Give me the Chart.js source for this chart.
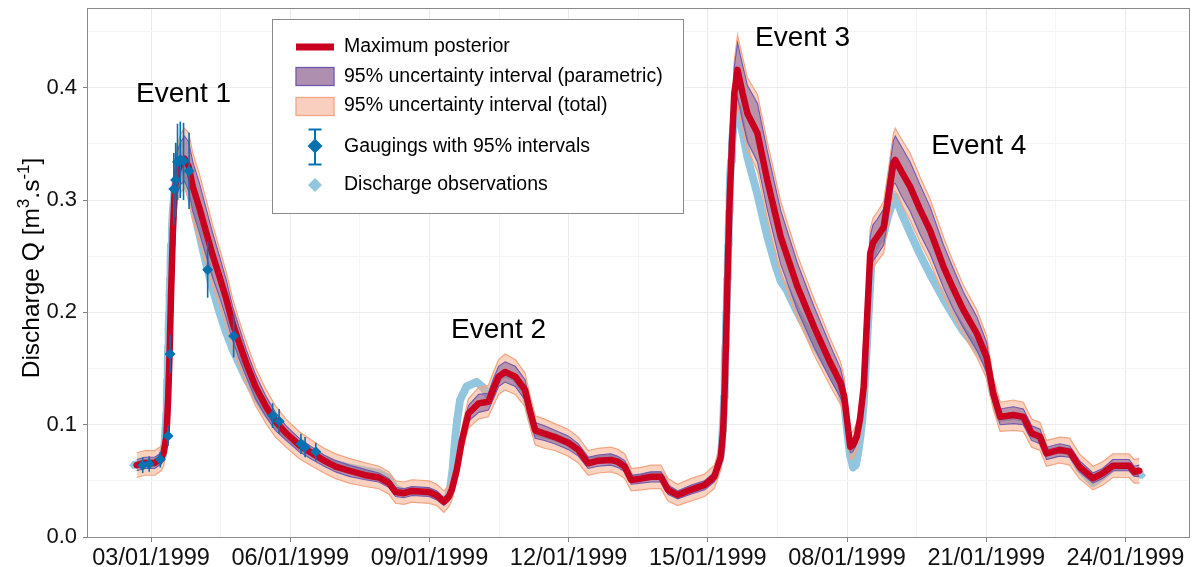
<!DOCTYPE html>
<html><head><meta charset="utf-8">
<script src="https://cdn.jsdelivr.net/npm/chart.js@4/dist/chart.umd.min.js"></script>
<style>html,body{margin:0;padding:0;background:#fff;}#wrap{width:1194px;height:567px;}</style>
</head><body><div id="wrap"><canvas id="c" width="1194" height="567"></canvas></div>
<script>
// ---------- DATA (time in days since 01/01/1999 00:00, discharge in m3/s) ----------
const tickDays   = [2, 5, 8, 11, 14, 17, 20, 23];
const tickLabels = ["03/01/1999","06/01/1999","09/01/1999","12/01/1999","15/01/1999","08/01/1999","21/01/1999","24/01/1999"];
const yTickValues = [0, 0.05, 0.1, 0.15, 0.2, 0.25, 0.3, 0.35, 0.4, 0.45];

const mapT = [1.69,1.87,2.08,2.22,2.27,2.33,2.37,2.40,2.43,2.47,
 2.51,2.57,2.64,2.72,2.81,2.90,3.05,3.19,3.32,3.475,
 3.62,3.76,3.905,4.05,4.25,4.48,4.68,4.91,5.19,5.47,
 5.73,5.98,6.27,6.62,6.91,7.13,7.27,7.45,7.62,7.99,
 8.16,8.31,8.42,8.48,8.59,8.70,8.84,9.06,9.27,9.38,
 9.49,9.63,9.85,10.06,10.15,10.28,10.48,10.70,10.99,11.21,
 11.42,11.635,11.91,12.06,12.21,12.35,12.56,12.78,12.99,13.14,
 13.35,13.63,13.93,14.14,14.28,14.33,14.37,14.40,14.43,14.47,
 14.52,14.57,14.64,14.75,14.855,15.07,15.28,15.57,15.93,16.29,
 16.645,16.86,16.94,17.00,17.07,17.13,17.21,17.28,17.36,17.43,
 17.50,17.56,17.65,17.79,17.88,18.00,18.04,18.18,18.36,18.57,
 18.79,19.08,19.28,19.51,19.80,20.01,20.15,20.30,20.585,20.80,
 20.98,21.16,21.30,21.585,21.80,22.01,22.30,22.51,22.73,23.08,
 23.19,23.30];
const mapQ = [.064,.066,.066,.070,.075,.089,.125,.164,.215,.271,
 .309,.325,.333,.337,.330,.312,.292,.271,.252,.232,
 .212,.190,.172,.155,.134,.116,.103,.0925,.082,.0746,
 .068,.0626,.059,.055,.053,.048,.040,.039,.041,.040,
 .037,.0315,.036,.042,.060,.086,.110,.119,.1205,.132,
 .1427,.147,.1427,.131,.115,.095,.092,.089,.084,.0775,
 .0656,.068,.0686,.067,.0626,.0508,.052,.0537,.0537,.042,
 .0374,.042,.0463,.0537,.0715,.095,.140,.190,.240,.300,
 .350,.395,.416,.395,.377,.3595,.318,.2674,.223,.187,
 .1547,.137,.125,.104,.0804,.082,.0893,.105,.134,.193,
 .2526,.262,.2674,.276,.300,.333,.3357,.325,.312,.292,
 .273,.2407,.222,.202,.181,.160,.128,.107,.1086,.107,
 .0923,.0893,.0745,.0775,.076,.0626,.0523,.0567,.0635,.0635,
 .058,.059];
const parLo = [.059,.061,.061,.065,.069,.083,.117,.154,.202,.255,
 .291,.306,.314,.317,.308,.290,.270,.250,.232,.214,
 .195,.175,.158,.143,.123,.107,.095,.086,.076,.069,
 .063,.058,.054,.051,.049,.044,.036,.035,.037,.036,
 .033,.028,.032,.038,.055,.080,.103,.111,.113,.123,
 .134,.138,.134,.122,.107,.088,.086,.083,.078,.072,
 .061,.063,.064,.062,.058,.047,.048,.049,.049,.038,
 .034,.038,.042,.049,.066,.088,.131,.178,.225,.282,
 .330,.372,.392,.370,.352,.334,.292,.243,.202,.169,
 .140,.124,.114,.097,.075,.076,.083,.098,.125,.181,
 .238,.246,.251,.260,.282,.314,.315,.303,.290,.270,
 .252,.222,.204,.186,.166,.147,.120,.100,.101,.100,
 .086,.083,.069,.072,.071,.058,.048,.052,.059,.059,
 .054,.054];
const parHi = [.069,.071,.071,.075,.081,.095,.133,.174,.228,.287,
 .327,.344,.352,.357,.352,.334,.314,.292,.272,.250,
 .229,.205,.186,.167,.145,.125,.111,.099,.088,.080,
 .073,.068,.064,.060,.057,.052,.044,.043,.045,.044,
 .041,.035,.040,.046,.065,.092,.117,.127,.128,.141,
 .152,.156,.152,.140,.123,.102,.099,.095,.090,.083,
 .071,.073,.074,.072,.068,.055,.056,.058,.058,.046,
 .041,.046,.050,.058,.077,.102,.149,.202,.255,.318,
 .370,.418,.440,.420,.402,.386,.344,.291,.244,.205,
 .170,.150,.136,.111,.086,.088,.096,.112,.143,.205,
 .268,.278,.283,.292,.318,.353,.357,.347,.334,.314,
 .294,.260,.240,.218,.196,.173,.136,.114,.116,.114,
 .099,.096,.080,.083,.081,.068,.057,.061,.069,.069,
 .063,.064];
const totLo = [.053,.055,.055,.059,.063,.077,.111,.148,.196,.249,
 .285,.300,.307,.311,.300,.282,.262,.242,.225,.207,
 .188,.168,.152,.136,.117,.101,.089,.080,.070,.063,
 .057,.052,.048,.045,.043,.038,.030,.029,.031,.030,
 .028,.022,.027,.032,.049,.074,.097,.105,.107,.117,
 .127,.131,.127,.116,.101,.082,.079,.077,.072,.066,
 .055,.057,.058,.056,.052,.041,.042,.043,.043,.032,
 .028,.032,.036,.043,.060,.082,.125,.172,.219,.276,
 .323,.366,.386,.363,.345,.326,.284,.235,.195,.162,
 .134,.118,.108,.091,.069,.070,.077,.092,.119,.175,
 .231,.240,.245,.253,.276,.307,.308,.296,.282,.263,
 .245,.215,.198,.180,.160,.141,.114,.094,.095,.094,
 .080,.077,.063,.066,.064,.052,.042,.046,.053,.053,
 .048,.048];
const totHi = [.075,.077,.077,.081,.087,.101,.139,.181,.234,.293,
 .334,.350,.359,.364,.360,.342,.322,.300,.279,.257,
 .236,.212,.192,.174,.151,.131,.117,.105,.094,.086,
 .079,.074,.070,.066,.063,.058,.050,.049,.051,.050,
 .047,.041,.046,.052,.071,.098,.123,.133,.135,.147,
 .158,.163,.158,.146,.129,.108,.105,.101,.096,.089,
 .077,.079,.080,.078,.074,.061,.062,.064,.064,.052,
 .047,.052,.056,.064,.083,.108,.155,.208,.261,.324,
 .377,.424,.447,.427,.409,.394,.352,.299,.251,.212,
 .176,.156,.142,.117,.092,.094,.102,.118,.149,.211,
 .274,.284,.289,.299,.324,.359,.364,.354,.342,.321,
 .301,.267,.246,.224,.202,.179,.142,.120,.122,.120,
 .105,.102,.086,.089,.088,.074,.063,.067,.074,.074,
 .069,.070];

const obsT = [1.61,1.75,1.90,2.05,2.18,2.25,2.29,2.31,2.33,2.34,
 2.35,2.36,2.37,2.38,2.39,2.40,2.41,2.42,2.43,2.45,
 2.47,2.50,2.54,2.60,2.67,2.75,2.83,2.90,3.05,3.19,
 3.32,3.475,3.62,3.76,3.905,4.05,4.25,4.48,4.68,4.91,
 5.19,5.47,5.73,5.98,6.27,6.62,6.91,7.13,7.27,7.45,
 7.62,7.99,8.16,8.31,8.40,8.45,8.50,8.53,8.56,8.60,
 8.66,8.80,9.02,9.16,9.27,9.38,9.49,9.63,9.85,10.06,
 10.15,10.28,10.48,10.70,10.99,11.21,11.42,11.635,11.91,12.06,
 12.21,12.35,12.56,12.78,12.99,13.14,13.35,13.63,13.93,14.14,
 14.26,14.30,14.32,14.34,14.35,14.36,14.37,14.38,14.39,14.40,
 14.41,14.42,14.43,14.44,14.45,14.46,14.47,14.48,14.50,14.52,
 14.55,14.59,14.64,14.75,14.855,15.07,15.28,15.45,15.57,15.70,
 15.93,16.29,16.645,16.86,16.94,17.00,17.07,17.13,17.19,17.24,
 17.29,17.33,17.36,17.38,17.40,17.42,17.44,17.46,17.48,17.50,
 17.52,17.56,17.65,17.79,17.88,18.00,18.04,18.18,18.36,18.57,
 18.79,19.08,19.28,19.51,19.80,20.01,20.15,20.30,20.585,20.80,
 20.98,21.16,21.30,21.585,21.80,22.01,22.30,22.51,22.73,23.08,
 23.19,23.36];
const obsQ = [.064,.065,.066,.066,.068,.072,.082,.095,.110,.125,
 .140,.155,.170,.185,.200,.215,.230,.245,.260,.275,
 .290,.305,.318,.328,.330,.325,.310,.295,.268,.243,
 .222,.200,.182,.167,.154,.141,.126,.111,.101,.091,
 .081,.075,.069,.065,.062,.059,.057,.052,.043,.040,
 .041,.040,.037,.032,.036,.045,.060,.075,.090,.105,
 .122,.134,.138,.133,.126,.133,.142,.146,.142,.130,
 .112,.093,.091,.089,.084,.078,.067,.069,.070,.068,
 .063,.052,.053,.055,.055,.043,.038,.042,.046,.053,
 .068,.080,.095,.110,.125,.140,.155,.170,.185,.200,
 .215,.230,.245,.260,.275,.290,.305,.320,.335,.350,
 .365,.378,.383,.360,.338,.305,.268,.243,.228,.220,
 .200,.172,.147,.130,.119,.096,.072,.062,.064,.075,
 .090,.105,.120,.135,.150,.165,.180,.195,.210,.225,
 .240,.255,.262,.270,.285,.300,.303,.288,.271,.252,
 .234,.212,.198,.183,.168,.155,.127,.106,.108,.106,
 .092,.089,.075,.078,.076,.061,.048,.054,.062,.063,
 .058,.055];

const gaugT  = [1.82,1.96,2.20,2.365,2.41,2.49,2.53,2.57,2.63,2.70,2.82,3.22,3.78,4.62,4.76,5.23,5.32,5.55];
const gaugQ  = [.064,.065,.069,.090,.163,.310,.318,.334,.336,.335,.326,.238,.179,.108,.103,.083,.080,.076];
const gaugLo = [.057,.058,.062,.081,.146,.278,.285,.300,.302,.300,.292,.213,.160,.097,.092,.074,.071,.068];
const gaugHi = [.071,.072,.076,.099,.180,.342,.351,.368,.370,.369,.360,.263,.198,.119,.114,.092,.089,.084];

const eventLabels = ["Event 1","Event 2","Event 3","Event 4"];
const legendLabels = ["Maximum posterior","95% uncertainty interval (parametric)","95% uncertainty interval (total)","Gaugings with 95% intervals","Discharge observations"];

// ---------- STYLE / LAYOUT ----------
const FONT = "'Liberation Sans', Arial, Helvetica, sans-serif";
const C = {map:'#CA0020', parFill:'rgba(95,60,140,0.42)', parLine:'#7058B0', totFill:'rgba(244,165,130,0.5)', totLine:'#F4A582', obs:'#92C5DE', gaug:'#0571B0'};
const eventAnchors = [[2.70,0.394],[9.49,0.184],[16.04,0.444],[19.84,0.348]];

const pts = (T,Q) => T.map((t,i)=>({x:t, y:Q[i]}));
const xMin = 0.641, xMax = 24.36;
const xGrid = [];
tickDays.forEach(d => { xGrid.push(d); if (d + 1.5 < xMax) xGrid.push(d + 1.5); });
const isMajorY = v => Math.abs(v*10 - Math.round(v*10)) < 1e-6;
const isMajorX = v => tickDays.indexOf(v) >= 0;

function diamond(ctx, x, y, r){ ctx.beginPath(); ctx.moveTo(x, y-r); ctx.lineTo(x+r, y); ctx.lineTo(x, y+r); ctx.lineTo(x-r, y); ctx.closePath(); ctx.fill(); }

const deco = {
  id: 'deco',
  beforeDatasetDraw(chart, args){
    if (args.index !== 0) return;
    const {ctx, chartArea:a, scales:{x, y}} = chart;
    ctx.save();
    ctx.beginPath(); ctx.rect(a.left, a.top, a.right-a.left, a.bottom-a.top); ctx.clip();
    ctx.strokeStyle = C.gaug; ctx.lineWidth = 1.6;
    ctx.beginPath();
    gaugT.forEach((t,i) => { const px = x.getPixelForValue(t); ctx.moveTo(px, y.getPixelForValue(gaugLo[i])); ctx.lineTo(px, y.getPixelForValue(gaugHi[i])); });
    ctx.stroke();
    ctx.restore();
  },
  afterDraw(chart){
    const {ctx, chartArea:a, scales:{x, y}} = chart;
    ctx.save();
    // panel frame
    ctx.strokeStyle = '#8a8a8a'; ctx.lineWidth = 1;
    ctx.strokeRect(Math.round(a.left)-0.5, Math.round(a.top)-0.5, Math.round(a.right-a.left)+1, Math.round(a.bottom-a.top)+1);
    // event labels
    ctx.fillStyle = '#000'; ctx.font = '28px ' + FONT; ctx.textAlign = 'center'; ctx.textBaseline = 'middle';
    eventLabels.forEach((s,i) => ctx.fillText(s, x.getPixelForValue(eventAnchors[i][0]), y.getPixelForValue(eventAnchors[i][1])));
    // y title with superscripts
    const parts = [['Discharge Q [m',0],['3',1],['.s',0],['-1',1],[']',0]];
    const fMain = '24.5px ' + FONT, fSup = '17px ' + FONT;
    let total = 0;
    parts.forEach(p => { ctx.font = p[1] ? fSup : fMain; total += ctx.measureText(p[0]).width; });
    ctx.translate(39, 268); ctx.rotate(-Math.PI/2);
    ctx.textAlign = 'left'; ctx.textBaseline = 'alphabetic';
    let cx = -total/2;
    parts.forEach(p => { ctx.font = p[1] ? fSup : fMain; ctx.fillText(p[0], cx, p[1] ? -10.5 : 0); cx += ctx.measureText(p[0]).width; });
    ctx.setTransform(1,0,0,1,0,0);
    // legend
    ctx.fillStyle = '#fff'; ctx.fillRect(272, 19, 411, 194);
    ctx.strokeStyle = '#8a8a8a'; ctx.lineWidth = 1; ctx.strokeRect(272.5, 19.5, 411, 194);
    ctx.strokeStyle = C.map; ctx.lineWidth = 7; ctx.lineCap = 'butt';
    ctx.beginPath(); ctx.moveTo(296, 47); ctx.lineTo(334, 47); ctx.stroke();
    ctx.fillStyle = '#AE8FAF'; ctx.fillRect(296, 67.5, 38, 18);
    ctx.strokeStyle = C.parLine; ctx.lineWidth = 1.3; ctx.strokeRect(296, 67.5, 38, 18);
    ctx.fillStyle = '#F9D0BF'; ctx.fillRect(296, 97.5, 38, 18);
    ctx.strokeStyle = C.totLine; ctx.strokeRect(296, 97.5, 38, 18);
    ctx.strokeStyle = C.gaug; ctx.lineWidth = 2;
    ctx.beginPath(); ctx.moveTo(315, 129.5); ctx.lineTo(315, 164.5);
    ctx.moveTo(308.5, 129.5); ctx.lineTo(321.5, 129.5); ctx.moveTo(308.5, 164.5); ctx.lineTo(321.5, 164.5); ctx.stroke();
    ctx.fillStyle = C.gaug; diamond(ctx, 315, 146, 7.5);
    ctx.fillStyle = C.obs; diamond(ctx, 315, 185, 7);
    ctx.fillStyle = '#000'; ctx.font = '19.5px ' + FONT; ctx.textAlign = 'left'; ctx.textBaseline = 'middle';
    [47, 76.5, 106, 147, 185].forEach((yy,i) => ctx.fillText(legendLabels[i], 344, yy));
    ctx.restore();
  }
};

Chart.defaults.font.family = FONT;
new Chart(document.getElementById('c'), {
  type: 'line',
  data: { datasets: [
    {label: legendLabels[3], data: pts(gaugT, gaugQ), showLine: false, pointStyle: 'rectRot', pointRadius: 5.5, pointBackgroundColor: C.gaug, pointBorderWidth: 0, borderColor: C.gaug, fill: false},
    {label: legendLabels[0], data: pts(mapT, mapQ), borderColor: C.map, borderWidth: 6.5, pointRadius: 0, fill: false, borderJoinStyle: 'round', borderCapStyle: 'round'},
    {label: 'par hi', data: pts(mapT, parHi), borderColor: C.parLine, borderWidth: 1.1, pointRadius: 0, fill: false},
    {label: 'par lo', data: pts(mapT, parLo), borderColor: C.parLine, borderWidth: 1.1, pointRadius: 0, fill: '-1', backgroundColor: C.parFill},
    {label: 'tot hi', data: pts(mapT, totHi), borderColor: C.totLine, borderWidth: 1.2, pointRadius: 0, fill: false},
    {label: 'tot lo', data: pts(mapT, totLo), borderColor: C.totLine, borderWidth: 1.2, pointRadius: 0, fill: '-1', backgroundColor: C.totFill},
    {label: legendLabels[4], data: pts(obsT, obsQ), borderColor: C.obs, borderWidth: 8, pointStyle: 'rectRot', pointRadius: 4, pointBackgroundColor: C.obs, pointBorderWidth: 0, fill: false, borderJoinStyle: 'round'}
  ]},
  options: {
    responsive: false, animation: false, devicePixelRatio: 1,
    layout: {padding: {top: 9, right: 1.4, left: 0, bottom: 0}},
    plugins: {legend: {display: false}, tooltip: {enabled: false}},
    elements: {line: {tension: 0}},
    scales: {
      x: {
        type: 'linear', min: xMin, max: xMax,
        afterBuildTicks: s => { s.ticks = xGrid.map(v => ({value: v})); },
        afterFit: s => { s.height = 30; s.paddingLeft = 0; s.paddingRight = 0; },
        border: {display: false},
        grid: {color: c => isMajorX(c.tick.value) ? '#EBEBEB' : '#F5F5F5', lineWidth: 1, tickLength: 5,
               tickColor: c => isMajorX(c.tick.value) ? '#7f7f7f' : 'rgba(0,0,0,0)'},
        ticks: {autoSkip: false, maxRotation: 0, minRotation: 0, padding: 2, color: '#111', font: {size: 23.5},
                callback: v => { const i = tickDays.indexOf(v); return i >= 0 ? tickLabels[i] : ''; }}
      },
      y: {
        min: 0, max: 0.4702,
        afterBuildTicks: s => { s.ticks = yTickValues.map(v => ({value: v})); },
        afterFit: s => { s.width = 88; s.paddingTop = 0; s.paddingBottom = 0; },
        border: {display: false},
        grid: {color: c => isMajorY(c.tick.value) ? '#EBEBEB' : '#F5F5F5', lineWidth: 1, tickLength: 5,
               tickColor: c => isMajorY(c.tick.value) ? '#7f7f7f' : 'rgba(0,0,0,0)'},
        ticks: {padding: 6, color: '#111', font: {size: 22},
                callback: v => isMajorY(v) ? v.toFixed(1) : ''}
      }
    }
  },
  plugins: [deco]
});
</script></body></html>
